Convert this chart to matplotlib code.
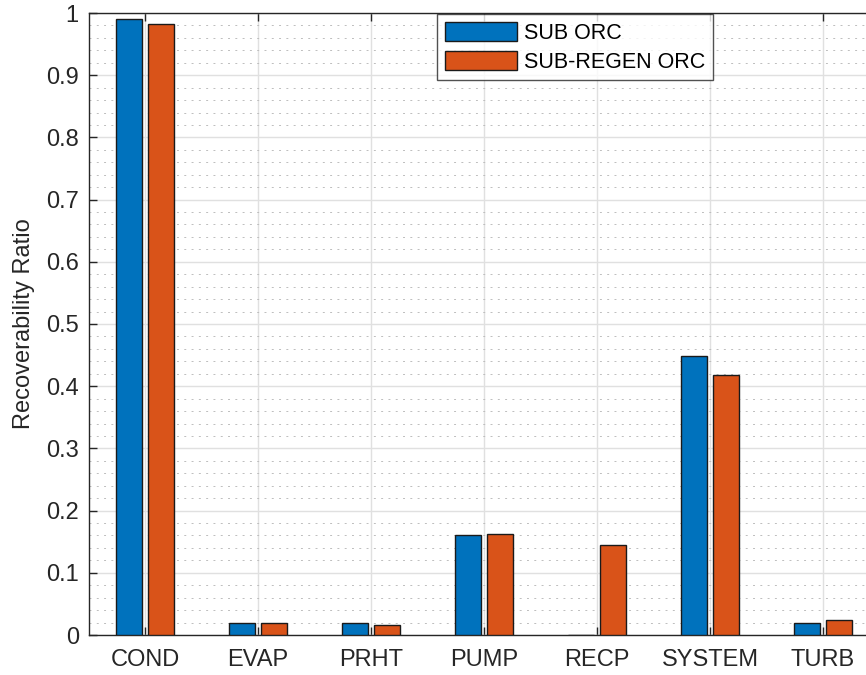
import matplotlib
matplotlib.use("Agg")
import matplotlib.pyplot as plt
import numpy as np
from matplotlib.ticker import MultipleLocator, FuncFormatter

categories = ["COND", "EVAP", "PRHT", "PUMP", "RECP", "SYSTEM", "TURB"]
sub_orc = [0.990, 0.019, 0.020, 0.160, 0.0005, 0.448, 0.020]
sub_regen_orc = [0.982, 0.019, 0.016, 0.162, 0.145, 0.418, 0.024]
series_names = ["SUB ORC", "SUB-REGEN ORC"]
y_ticks = [0, 0.1, 0.2, 0.3, 0.4, 0.5, 0.6, 0.7, 0.8, 0.9, 1.0]

plt.rcParams['font.family'] = ['Liberation Sans', 'DejaVu Sans']
W, H = 866, 675
fig = plt.figure(figsize=(W/100, H/100), dpi=100)
left, right, bottom, top = 88.5, 879.5, 635, 13
ax = fig.add_axes([left/W, (H-bottom)/H, (right-left)/W, (bottom-top)/H])

x = np.arange(1, len(categories)+1)
off = 0.143
w = 0.23
ax.bar(x-off, sub_orc, w, color="#0072BD", edgecolor="#1a1a1a", linewidth=1.0, label=series_names[0], zorder=3)
ax.bar(x+off, sub_regen_orc, w, color="#D95319", edgecolor="#1a1a1a", linewidth=1.0, label=series_names[1], zorder=3)

ax.set_xlim(0.5, len(categories)+0.5)
ax.set_ylim(0, 1)
ax.set_xticks(x)
ax.set_xticklabels(categories)
ax.set_yticks(y_ticks)
ax.yaxis.set_major_formatter(FuncFormatter(lambda v, p: "%g" % v))
ax.yaxis.set_minor_locator(MultipleLocator(0.02))

ax.grid(True, which='major', color="#e0e0e0", linewidth=1.0, zorder=0)
ax.grid(True, which='minor', axis='y', color="#bdbdbd", linewidth=0.7, linestyle=(0, (2, 5.5)), zorder=0)
ax.set_axisbelow(True)

ax.tick_params(which='major', direction='in', length=5.5, width=1.0, top=True, right=True,
               colors="#262626", labelsize=17)
ax.tick_params(which='minor', length=0)
ax.tick_params(axis='x', pad=10)
ax.tick_params(axis='y', pad=7)
for s in ax.spines.values():
    s.set_color("#262626")
    s.set_linewidth(1.0)

ax.set_ylabel("Recoverability Ratio", fontsize=17, color="#262626", labelpad=8)

leg = ax.legend(loc='upper left', bbox_to_anchor=(437/W, (H-14)/H), bbox_transform=fig.transFigure,
                fontsize=15.5, frameon=True, fancybox=False, edgecolor="#262626",
                handlelength=3.35, handleheight=1.0, handletextpad=0.33, borderpad=0.35,
                labelspacing=0.33, borderaxespad=0)
leg.get_frame().set_linewidth(1.0)

fig.savefig("out.png", dpi=100)
